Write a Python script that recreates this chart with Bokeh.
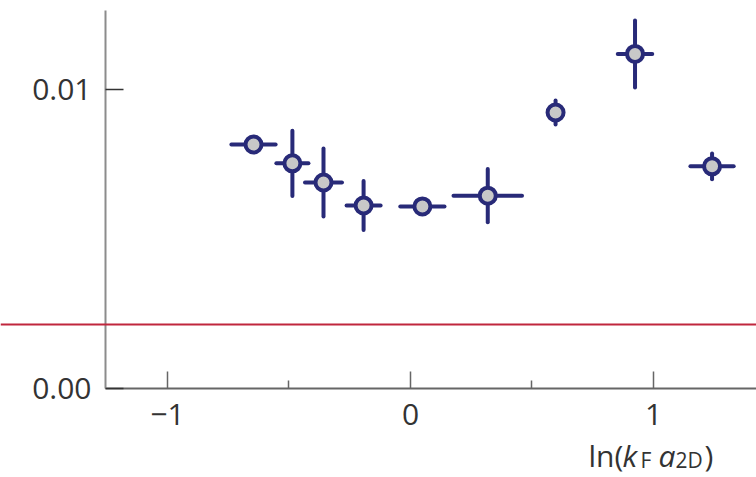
from bokeh.plotting import figure
from bokeh.models import (Range1d, FixedTicker, Span, Label, ColumnDataSource,
                          NumeralTickFormatter)
from bokeh.embed import file_html
from bokeh.resources import INLINE

# ---- data ----
ln_kfa = [-0.646, -0.486, -0.358, -0.193, 0.049, 0.318, 0.597, 0.924, 1.241]
value = [0.00816, 0.00753, 0.00689, 0.00612, 0.00609, 0.00645, 0.00923, 0.01119, 0.00743]
x_err = [0.091, 0.066, 0.076, 0.070, 0.091, 0.141, 0.0, 0.071, 0.089]
y_err = [0.0, 0.00109, 0.00114, 0.00082, 0.0, 0.00089, 0.00040, 0.00112, 0.00043]
reference_level = 0.00214
x_ticks = [-1, 0, 1]
x_minor_ticks = [-0.5, 0.5]
x_tick_labels = {-1: "\u22121", 0: "0", 1: "1"}
y_ticks = [0.0, 0.01]

NAVY = "#282a78"
RED = "#c0263d"
FONT = "Open Sans"
TXT = "#333333"

# view window (frame covers the whole canvas; axes sit at fixed locations)
X0, X1 = -1.6872, 1.4239
Y0, Y1 = -0.0029766, 0.0129766
YAXIS_AT = -1.255
Y_TOP = 0.012642

src = ColumnDataSource(dict(
    x=ln_kfa, y=value,
    xl=[a - b for a, b in zip(ln_kfa, x_err)],
    xr=[a + b for a, b in zip(ln_kfa, x_err)],
    yl=[a - b for a, b in zip(value, y_err)],
    yh=[a + b for a, b in zip(value, y_err)],
))

p = figure(width=756, height=477, x_range=Range1d(X0, X1), y_range=Range1d(Y0, Y1),
           output_backend="svg", toolbar_location=None,
           min_border_left=0, min_border_right=0, min_border_top=0, min_border_bottom=0)
p.outline_line_color = None
p.grid.visible = False
p.background_fill_color = "white"
p.border_fill_color = "white"

# x axis
xa = p.xaxis[0]
xa.fixed_location = 0.0
xa.ticker = FixedTicker(ticks=x_ticks, minor_ticks=x_minor_ticks)
xa.major_label_overrides = x_tick_labels
xa.bounds = (YAXIS_AT, X1)
xa.axis_line_color = "#666666"
xa.axis_line_width = 2
xa.major_tick_in = 17
xa.major_tick_out = 0
xa.minor_tick_in = 8
xa.minor_tick_out = 0
xa.major_tick_line_color = "#666666"
xa.major_tick_line_width = 1.5
xa.minor_tick_line_color = "#666666"
xa.minor_tick_line_width = 1.5
xa.major_label_text_font = FONT
xa.major_label_text_font_size = "30px"
xa.major_label_text_color = TXT
xa.major_label_standoff = 16

# y axis
ya = p.yaxis[0]
ya.fixed_location = YAXIS_AT
ya.bounds = (0.0, Y_TOP)
ya.ticker = FixedTicker(ticks=y_ticks, minor_ticks=[])
ya.formatter = NumeralTickFormatter(format="0.00")
ya.axis_line_color = "#8c8c8c"
ya.axis_line_width = 2
ya.major_tick_in = 18
ya.major_tick_out = 0
ya.minor_tick_in = 0
ya.minor_tick_out = 0
ya.major_tick_line_color = "#333333"
ya.major_tick_line_width = 1.5
ya.major_label_text_font = FONT
ya.major_label_text_font_size = "30px"
ya.major_label_text_color = TXT
ya.major_label_standoff = 14

p.add_layout(Span(location=reference_level, dimension="width",
                  line_color=RED, line_width=2))

p.segment(x0="xl", y0="y", x1="xr", y1="y", source=src,
          line_color=NAVY, line_width=4, line_cap="round")
p.segment(x0="x", y0="yl", x1="x", y1="yh", source=src,
          line_color=NAVY, line_width=4, line_cap="round")
p.scatter("x", "y", source=src, size=16, fill_color="#c8c8c8",
          line_color=NAVY, line_width=4)

# axis title: ln(k_F a_2D), right-aligned under the axis
def px(sx):
    return (sx - 410) / 243.0

parts = [
    ("ln(", 588, -67, "30px", "normal"),
    ("k", 622, -67, "30px", "italic"),
    ("F", 640, -72, "21px", "normal"),
    ("a", 658, -67, "30px", "italic"),
    ("2D", 675, -72, "21px", "normal"),
    (")", 704, -67, "30px", "normal"),
]
for t, sx, dy, fs, st in parts:
    p.add_layout(Label(x=px(sx), y=0, y_offset=dy, text=t, text_font=FONT,
                       text_font_size=fs, text_font_style=st, text_color=TXT,
                       text_baseline="alphabetic", text_align="left"))

open("out.html", "w").write(file_html(p, INLINE))
